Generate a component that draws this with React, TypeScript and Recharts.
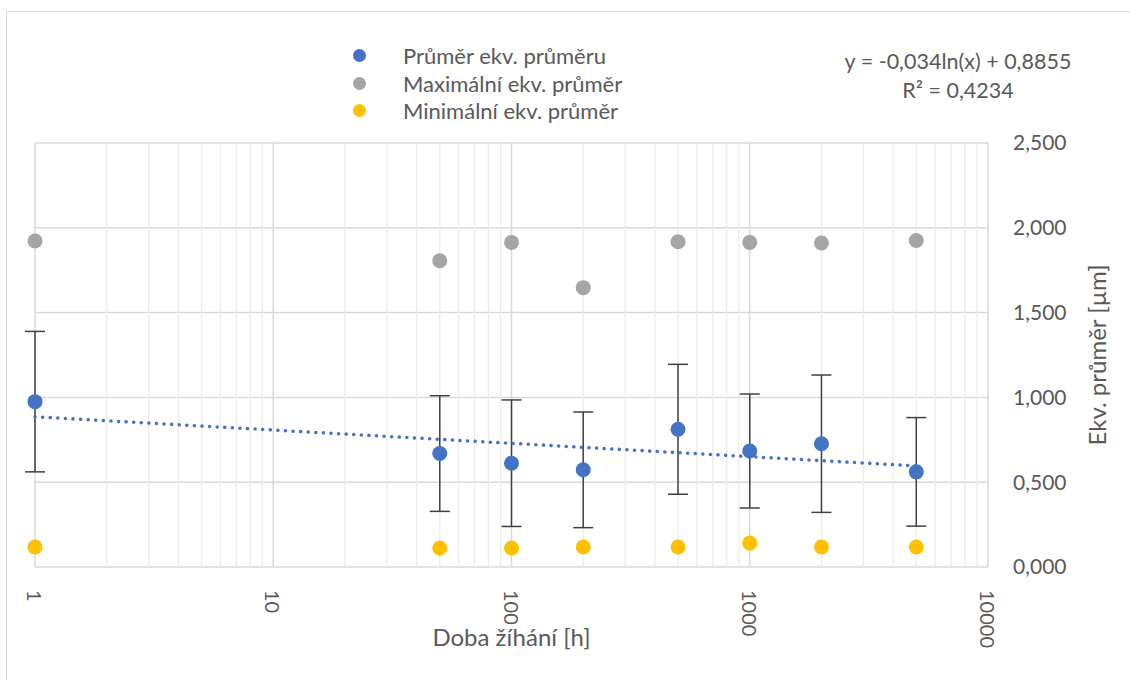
import { ScatterChart, Scatter, XAxis, YAxis, CartesianGrid, ErrorBar, ReferenceLine } from "recharts";

// annealing time [h]
const hours = [1, 50, 100, 200, 500, 1000, 2000, 5000];
// equivalent diameter values
const meanDiameter = [0.975, 0.669, 0.612, 0.573, 0.812, 0.684, 0.727, 0.561];
const meanError = [0.414, 0.341, 0.373, 0.341, 0.383, 0.336, 0.405, 0.32];
const maxDiameter = [1.922, 1.806, 1.914, 1.647, 1.918, 1.914, 1.91, 1.925];
const minDiameter = [0.118, 0.112, 0.112, 0.118, 0.118, 0.141, 0.118, 0.118];
// log trendline endpoints
const trendHours = [1, 5000];
const trendValues = [0.886, 0.596];

const xTicks = [1, 10, 100, 1000, 10000];
const xMinorTicks = [
  2, 3, 4, 5, 6, 7, 8, 9,
  20, 30, 40, 50, 60, 70, 80, 90,
  200, 300, 400, 500, 600, 700, 800, 900,
  2000, 3000, 4000, 5000, 6000, 7000, 8000, 9000,
];
const yTicks = [0, 0.5, 1, 1.5, 2, 2.5];

const seriesNames = ["Průměr ekv. průměru", "Maximální ekv. průměr", "Minimální ekv. průměr"];
const seriesColors = ["#4472C4", "#A5A5A5", "#FFC000"];
const trendEquation = "y = -0,034ln(x) + 0,8855";
const trendR2 = "R² = 0,4234";

const FONT = "Lato, 'Open Sans', sans-serif";
const TEXT = "#595959";

const meanData = hours.map((h, i) => ({ x: h, y: meanDiameter[i], err: meanError[i] }));
const maxData = hours.map((h, i) => ({ x: h, y: maxDiameter[i] }));
const minData = hours.map((h, i) => ({ x: h, y: minDiameter[i] }));
const trendData = trendHours.map((h, i) => ({ x: h, y: trendValues[i] }));

const dot = (color: string) => (props: any) =>
  <circle cx={props.cx} cy={props.cy} r={7.5} fill={color} />;

const XTick = (props: any) => {
  const { x, y, payload } = props;
  return (
    <text
      transform={`translate(${x},${y + 15}) rotate(90)`}
      textAnchor="start"
      dominantBaseline="central"
      fill={TEXT}
      fontSize={20}
      fontFamily={FONT}
    >
      {payload.value}
    </text>
  );
};

const fmt = (v: number) => v.toFixed(3).replace(".", ",");

export default function App() {
  return (
    <div style={{ position: "absolute", left: 0, top: 0, width: 1130, height: 680, overflow: "hidden", background: "#fff", fontFamily: FONT }}>
      <div style={{ position: "absolute", left: 6, top: 11, width: 1140, height: 700, border: "1.5px solid #d9d9d9" }} />
      <ScatterChart width={1130} height={680} margin={{ top: 143, right: 82, bottom: 53, left: 35 }}>
        <CartesianGrid stroke="#d9d9d9" strokeWidth={1.5} />
        {xMinorTicks.map((v) => (
          <ReferenceLine key={v} x={v} stroke="#ececec" strokeWidth={1.3} />
        ))}
        <XAxis
          type="number"
          dataKey="x"
          scale="log"
          domain={[1, 10000]}
          ticks={xTicks}
          height={60}
          axisLine={false}
          tickLine={false}
          tick={<XTick />}
          interval={0}
          label={{
            content: (p: any) => (
              <text
                x={p.viewBox.x + p.viewBox.width / 2}
                y={p.viewBox.y + 79}
                textAnchor="middle"
                fill={TEXT}
                fontSize={24}
                fontFamily={FONT}
              >
                Doba žíhání [h]
              </text>
            ),
          }}
        />
        <YAxis
          type="number"
          dataKey="y"
          orientation="right"
          domain={[0, 2.5]}
          ticks={yTicks}
          width={60}
          axisLine={false}
          tickLine={false}
          tickSize={0}
          tickMargin={25}
          tickFormatter={fmt}
          tick={{ fill: TEXT, fontSize: 21, fontFamily: FONT, textAnchor: "start" }}
          interval={0}
          label={{
            content: (p: any) => (
              <text
                transform={`translate(${p.viewBox.x + 118},${p.viewBox.y + p.viewBox.height / 2}) rotate(-90)`}
                textAnchor="middle"
                fill={TEXT}
                fontSize={24}
                fontFamily={FONT}
              >
                Ekv. průměr [µm]
              </text>
            ),
          }}
        />
        <Scatter
          data={trendData}
          line={{ stroke: seriesColors[0], strokeWidth: 3.5, strokeDasharray: "0.1 7.5", strokeLinecap: "round" }}
          shape={() => null}
          isAnimationActive={false}
        />
        <Scatter data={meanData} shape={dot(seriesColors[0])} isAnimationActive={false}>
          <ErrorBar dataKey="err" direction="y" width={10} stroke="#404040" strokeWidth={1.5} isAnimationActive={false} />
        </Scatter>
        <Scatter data={maxData} shape={dot(seriesColors[1])} isAnimationActive={false} />
        <Scatter data={minData} shape={dot(seriesColors[2])} isAnimationActive={false} />
      </ScatterChart>
      <div style={{ position: "absolute", left: 353, top: 42, color: TEXT, fontSize: 22, lineHeight: "27.5px" }}>
        {seriesNames.map((name, i) => (
          <div key={name} style={{ display: "flex", alignItems: "center" }}>
            <span style={{ width: 13, height: 13, borderRadius: "50%", background: seriesColors[i], marginRight: 37 }} />
            <span>{name}</span>
          </div>
        ))}
      </div>
      <div style={{ position: "absolute", left: 820, width: 276, top: 47, color: TEXT, fontSize: 21.5, lineHeight: "29px", textAlign: "center" }}>
        <div>{trendEquation}</div>
        <div>{trendR2}</div>
      </div>
    </div>
  );
}
